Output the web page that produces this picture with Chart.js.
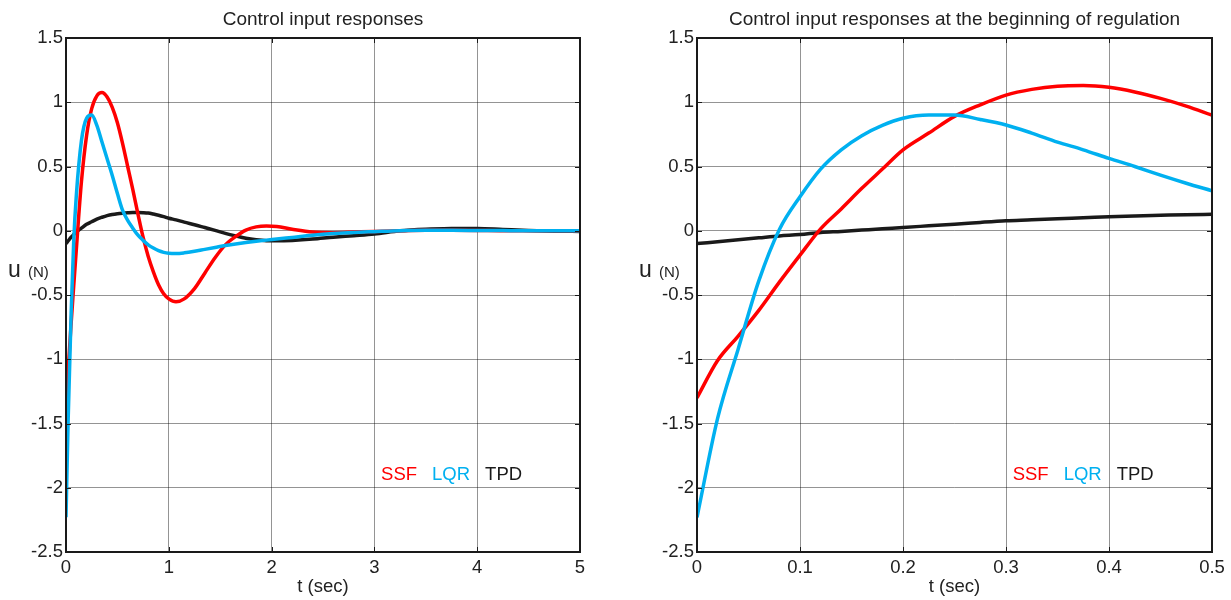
<!DOCTYPE html>
<html>
<head>
<meta charset="utf-8">
<script src="https://cdn.jsdelivr.net/npm/chart.js@4.4.0/dist/chart.umd.min.js"></script>
<style>
  html, body { margin: 0; padding: 0; background: #fff; }
  #left { position: absolute; left: 0; top: 0; }
  #right { position: absolute; left: 615px; top: 0; }
</style>
</head>
<body>
<canvas id="left" width="615" height="600"></canvas>
<canvas id="right" width="616" height="600"></canvas>
<script>
// === data ===
const seriesNames = ['SSF', 'LQR', 'TPD'];
const yTicks = [-2.5, -2, -1.5, -1, -0.5, 0, 0.5, 1, 1.5];
const xTicksLeft = [0, 1, 2, 3, 4, 5];
const xTicksRight = [0, 0.1, 0.2, 0.3, 0.4, 0.5];

// full run, 0..5 s
const tLeft = [0,0.02,0.05,0.075,0.1,0.15,0.2,0.25,0.3,0.35,0.4,0.45,0.5,0.55,0.6,0.65,0.7,0.75,0.8,0.85,0.9,0.95,1.0,1.07,1.15,1.25,1.35,1.45,1.55,1.65,1.75,1.85,1.95,2.05,2.2,2.4,2.6,2.8,3.0,3.25,3.5,3.75,4.0,4.25,4.5,4.75,5.0];
const ssfLeft = [-1.4,-1.1,-0.72,-0.43,-0.15,0.38,0.74,0.95,1.05,1.075,1.04,0.96,0.84,0.68,0.5,0.32,0.13,-0.05,-0.2,-0.32,-0.42,-0.49,-0.53,-0.553,-0.53,-0.45,-0.33,-0.21,-0.11,-0.045,0.005,0.03,0.037,0.033,0.012,-0.01,-0.015,-0.01,-0.005,0,0.003,0.003,0.002,0,0,0,0];
const lqrLeft = [-2.23,-1.5,-0.64,-0.08,0.27,0.70,0.875,0.90,0.82,0.69,0.56,0.43,0.29,0.16,0.08,0.02,-0.035,-0.075,-0.11,-0.135,-0.155,-0.168,-0.175,-0.177,-0.172,-0.16,-0.145,-0.13,-0.115,-0.103,-0.092,-0.082,-0.073,-0.065,-0.052,-0.035,-0.022,-0.013,-0.007,0,0.003,0.003,0.002,0.001,0,0,0];
const tpdLeft = [-0.1,-0.08,-0.05,-0.03,-0.01,0.02,0.05,0.07,0.09,0.105,0.118,0.127,0.133,0.137,0.14,0.142,0.142,0.141,0.138,0.13,0.121,0.11,0.097,0.085,0.067,0.047,0.025,0.003,-0.02,-0.04,-0.058,-0.07,-0.077,-0.078,-0.075,-0.065,-0.05,-0.038,-0.025,0,0.012,0.017,0.018,0.01,0.002,-0.003,-0.005];

// beginning of regulation, 0..0.5 s
const tRight = [0,0.02,0.04,0.06,0.08,0.1,0.12,0.14,0.16,0.18,0.2,0.225,0.25,0.275,0.3,0.325,0.35,0.375,0.4,0.425,0.45,0.475,0.5];
const ssfRight = [-1.30,-1.01,-0.82,-0.62,-0.40,-0.19,0.015,0.17,0.33,0.48,0.63,0.76,0.89,0.98,1.056,1.10,1.125,1.13,1.116,1.08,1.03,0.97,0.90];
const lqrRight = [-2.23,-1.46,-0.92,-0.39,0.01,0.265,0.48,0.63,0.74,0.82,0.875,0.90,0.90,0.866,0.823,0.76,0.69,0.63,0.563,0.50,0.433,0.37,0.311];
const tpdRight = [-0.10,-0.085,-0.07,-0.055,-0.04,-0.03,-0.013,-0.005,0.005,0.015,0.026,0.038,0.05,0.065,0.078,0.085,0.094,0.101,0.109,0.115,0.12,0.125,0.128];

// === styles ===
const FONT = "'Liberation Sans', Arial, Helvetica, sans-serif";
const colors = ['#ff0000', '#00b0f0', '#1a1a1a'];
const gridColor = 'rgba(0,0,0,0.42)';

function pts(t, u) {
  return t.map((x, i) => ({ x, y: u[i] }));
}

// titles, box, inward ticks, u (N) label and the coloured name row
const annotate = {
  id: 'annotate',
  afterDraw(chart, args, opts) {
    const { ctx, chartArea: a } = chart;
    const xs = chart.scales.x, ys = chart.scales.y;
    ctx.save();

    // inward tick marks on all four sides
    ctx.strokeStyle = '#1a1a1a';
    ctx.lineWidth = 1;
    ctx.beginPath();
    xs.ticks.forEach(tk => {
      const px = Math.round(xs.getPixelForValue(tk.value)) + 0.5;
      ctx.moveTo(px, a.bottom); ctx.lineTo(px, a.bottom - 5);
      ctx.moveTo(px, a.top); ctx.lineTo(px, a.top + 5);
    });
    ys.ticks.forEach(tk => {
      const py = Math.round(ys.getPixelForValue(tk.value)) + 0.5;
      ctx.moveTo(a.left, py); ctx.lineTo(a.left + 5, py);
      ctx.moveTo(a.right, py); ctx.lineTo(a.right - 5, py);
    });
    ctx.stroke();

    // axes box
    ctx.lineWidth = 2;
    ctx.strokeRect(a.left, a.top, a.right - a.left, a.bottom - a.top);

    // title
    ctx.fillStyle = '#222';
    ctx.textAlign = 'center';
    ctx.textBaseline = 'alphabetic';
    ctx.font = '19px ' + FONT;
    ctx.fillText(opts.title, (a.left + a.right) / 2, 25);

    // u (N)
    ctx.textAlign = 'left';
    ctx.font = '23px ' + FONT;
    ctx.fillText('u', a.left - 58, 277);
    ctx.font = '15px ' + FONT;
    ctx.fillText('(N)', a.left - 38, 277);

    // series names inside the plot
    ctx.font = '18.5px ' + FONT;
    let x = a.left + 0.613 * (a.right - a.left);
    const y = a.top + 0.86 * (a.bottom - a.top);
    seriesNames.forEach((name, i) => {
      ctx.fillStyle = colors[i];
      ctx.fillText(name, x, y);
      x += ctx.measureText(name).width + 15;
    });
    ctx.restore();
  }
};

function makeChart(id, t, ssf, lqr, tpd, xTicks, xMax, yAxisWidth, padRight, title) {
  const tickFmt = v => Number(v.toFixed(3)).toString();
  return new Chart(document.getElementById(id), {
    type: 'scatter',
    data: {
      datasets: [
        { label: seriesNames[0], data: pts(t, ssf), borderColor: colors[0], order: 1 },
        { label: seriesNames[1], data: pts(t, lqr), borderColor: colors[1], order: 0 },
        { label: seriesNames[2], data: pts(t, tpd), borderColor: colors[2], order: 2 }
      ].map(d => Object.assign(d, {
        showLine: true, pointRadius: 0, borderWidth: 3.5,
        cubicInterpolationMode: 'monotone', fill: false
      }))
    },
    options: {
      responsive: false,
      animation: false,
      layout: { padding: { top: 38, right: padRight, left: 0, bottom: 0 } },
      plugins: {
        legend: { display: false },
        tooltip: { enabled: false },
        annotate: { title }
      },
      scales: {
        x: {
          type: 'linear', min: 0, max: xMax,
          afterBuildTicks: s => { s.ticks = xTicks.map(v => ({ value: v })); },
          afterFit: s => { s.height = 48; },
          grid: { color: gridColor, drawTicks: false },
          border: { display: false },
          ticks: { color: '#222', padding: 5, font: { family: FONT, size: 18.5 }, callback: tickFmt },
          title: { display: true, text: 't (sec)', color: '#222', font: { family: FONT, size: 18.5 }, padding: { top: 0, bottom: 2 } }
        },
        y: {
          min: -2.5, max: 1.5,
          afterBuildTicks: s => { s.ticks = yTicks.map(v => ({ value: v })); },
          afterFit: s => { s.width = yAxisWidth; },
          grid: { color: gridColor, drawTicks: false },
          border: { display: false },
          ticks: { color: '#222', padding: 3, font: { family: FONT, size: 18.5 }, callback: tickFmt }
        }
      }
    },
    plugins: [annotate]
  });
}

makeChart('left', tLeft, ssfLeft, lqrLeft, tpdLeft, xTicksLeft, 5, 66, 35, 'Control input responses');
makeChart('right', tRight, ssfRight, lqrRight, tpdRight, xTicksRight, 0.5, 82, 19, 'Control input responses at the beginning of regulation');
</script>
</body>
</html>
